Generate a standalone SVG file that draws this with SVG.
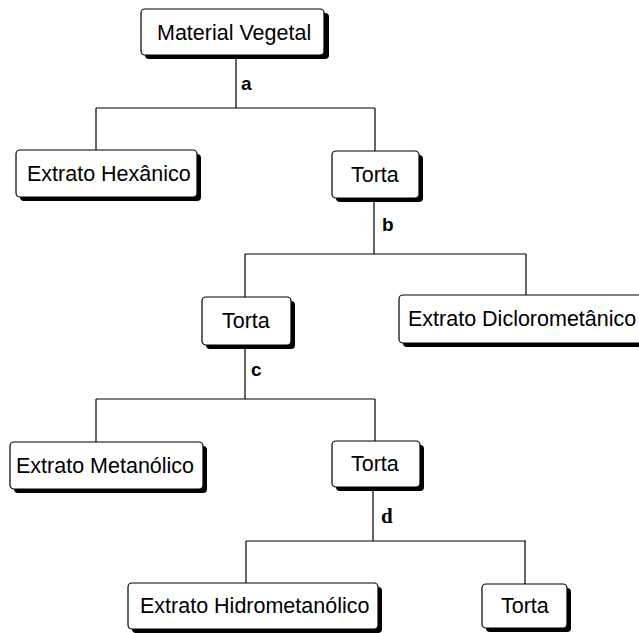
<svg xmlns="http://www.w3.org/2000/svg" width="639" height="633" viewBox="0 0 639 633">
<style>
.box{fill:#fff;stroke:#000;stroke-width:1.2}
.sh{fill:#000}
.t{font-family:"Liberation Sans",Arial,sans-serif;font-size:21.5px;fill:#000}
.lbl{font-family:"Liberation Sans",Arial,sans-serif;font-size:19px;font-weight:bold;fill:#000}
.lbls{font-family:"Liberation Serif","Times New Roman",serif;font-size:21px;font-weight:bold;fill:#000}
.c{stroke:#000;stroke-width:1.2;fill:none}
</style>
<rect width="639" height="633" fill="#fff"/>
<g id="connectors">
<path class="c" d="M236 55V108M96 108H375M96 108V150M375 108V151"/>
<path class="c" d="M374 198V254M245 254H526M245 254V297M526 254V295"/>
<path class="c" d="M245 345V399M96 399H375M96 399V442M375 399V441"/>
<path class="c" d="M373 487V541M246 541H526M246 541V583M525 541V584"/>
<text class="lbl" x="241" y="90">a</text>
<text class="lbl" x="382" y="231">b</text>
<text class="lbl" x="251" y="376">c</text>
<text class="lbls" x="381" y="523">d</text>
</g>
<g id="n1"><rect class="sh" x="145" y="13" width="184" height="46" rx="4"/><rect class="box" x="141" y="9" width="183" height="46" rx="4"/><text class="t" x="157" y="40">Material Vegetal</text></g>
<g id="n2"><rect class="sh" x="20" y="154" width="181" height="47" rx="4"/><rect class="box" x="16" y="150" width="181" height="47" rx="4"/><text class="t" x="27" y="181">Extrato Hexânico</text></g>
<g id="n3"><rect class="sh" x="336" y="155" width="87" height="47" rx="4"/><rect class="box" x="332" y="151" width="87" height="47" rx="4"/><text class="t" x="351" y="182">Torta</text></g>
<g id="n4"><rect class="sh" x="206" y="301" width="89" height="48" rx="4"/><rect class="box" x="202" y="297" width="89" height="48" rx="4"/><text class="t" x="222" y="328">Torta</text></g>
<g id="n5"><rect class="sh" x="403" y="299" width="250" height="48" rx="4"/><rect class="box" x="399" y="295" width="250" height="48" rx="4"/><text class="t" x="408" y="326">Extrato Diclorometânico</text></g>
<g id="n6"><rect class="sh" x="14" y="446" width="193" height="47" rx="4"/><rect class="box" x="10" y="442" width="193" height="47" rx="4"/><text class="t" x="16" y="473">Extrato Metanólico</text></g>
<g id="n7"><rect class="sh" x="336" y="445" width="88" height="46" rx="4"/><rect class="box" x="332" y="441" width="88" height="46" rx="4"/><text class="t" x="351" y="471">Torta</text></g>
<g id="n8"><rect class="sh" x="132" y="587" width="250" height="46" rx="4"/><rect class="box" x="128" y="583" width="250" height="46" rx="4"/><text class="t" x="140" y="613">Extrato Hidrometanólico</text></g>
<g id="n9"><rect class="sh" x="486" y="588" width="85" height="44" rx="4"/><rect class="box" x="482" y="584" width="85" height="44" rx="4"/><text class="t" x="501" y="613">Torta</text></g>
</svg>
